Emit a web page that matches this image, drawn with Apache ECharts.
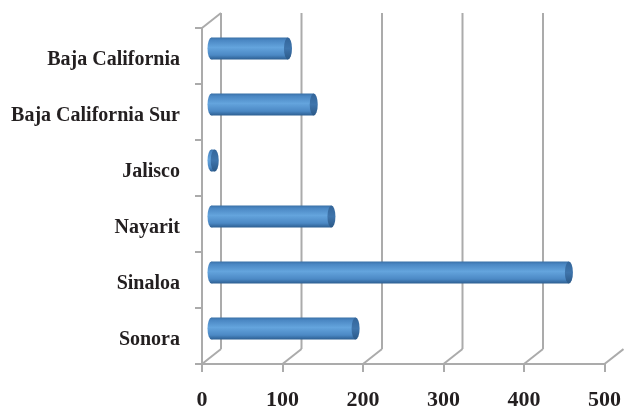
<!DOCTYPE html>
<html>
<head>
<meta charset="utf-8">
<script src="https://cdn.jsdelivr.net/npm/echarts@6/dist/echarts.min.js"></script>
<style>html,body{margin:0;padding:0;background:#fff}#c{width:624px;height:411px}</style>
</head>
<body>
<div id="c"></div>
<script>
const categories = ['Baja California','Baja California Sur','Jalisco','Nayarit','Sinaloa','Sonora'];
const values = [95, 127, 4, 149, 444, 179];
const xTicks = [0, 100, 200, 300, 400, 500];

const DX = 19, DY = -15;          // depth offset of back wall
const GRID = '#ababab';
const FONT = 'Liberation Serif';

const chart = echarts.init(document.getElementById('c'));

function frameItem(params, api) {
  const cs = params.coordSys;
  const v = api.value(0);
  const x = api.coord([v, 0])[0];
  const top = cs.y, bottom = cs.y + cs.height;
  const style = {stroke: GRID, lineWidth: 2, fill: null};
  const children = [];
  children.push({type: 'line', shape: {x1: x, y1: bottom, x2: x + DX, y2: bottom + DY}, style});
  if (v < 500) {
    children.push({type: 'line', shape: {x1: x + DX, y1: top + DY, x2: x + DX, y2: bottom + DY}, style});
  }
  if (v === 0) {
    children.push({type: 'line', shape: {x1: x, y1: top, x2: x + DX, y2: top + DY}, style});
  }
  return {type: 'group', children};
}

function barItem(params, api) {
  const v = api.value(0), c = api.value(1);
  const p0 = api.coord([0, c]);
  const p1 = api.coord([v, c]);
  const band = api.size([0, 1])[1];
  const h = band * 0.39;
  const ry = h / 2, rx = 4;
  const x0 = p0[0] + DX / 2, x1 = p1[0] + DX / 2, cy = p0[1] + DY / 2;
  const bodyFill = new echarts.graphic.LinearGradient(0, 0, 0, 1, [
    {offset: 0, color: '#3a71a8'},
    {offset: 0.12, color: '#4a87c3'},
    {offset: 0.45, color: '#64a4dd'},
    {offset: 0.8, color: '#4c89c5'},
    {offset: 1, color: '#2d5f92'}
  ]);
  const capFill = new echarts.graphic.LinearGradient(0, 0, 0, 1, [
    {offset: 0, color: '#33659a'},
    {offset: 0.5, color: '#3f75ac'},
    {offset: 1, color: '#2b5988'}
  ]);
  return {
    type: 'group',
    children: [
      {type: 'circle', x: x0, y: cy, scaleX: rx / ry, shape: {cx: 0, cy: 0, r: ry}, style: {fill: bodyFill}},
      {type: 'rect', shape: {x: x0, y: cy - ry, width: Math.max(x1 - x0, 0), height: h}, style: {fill: bodyFill}},
      {type: 'circle', x: x1, y: cy, scaleX: rx / ry, shape: {cx: 0, cy: 0, r: ry}, style: {fill: capFill}}
    ]
  };
}

chart.setOption({
  animation: false,
  backgroundColor: '#fff',
  grid: {left: 202, right: 18.3, top: 28, bottom: 44, containLabel: false},
  xAxis: {
    type: 'value', min: 0, max: 500, interval: 100,
    axisLine: {show: true, lineStyle: {color: GRID, width: 2}},
    axisTick: {show: true, length: 8, lineStyle: {color: GRID, width: 2}},
    splitLine: {show: false},
    axisLabel: {margin: 25, color: '#231f20', fontFamily: FONT, fontWeight: 'bold', fontSize: 22,
      formatter: function (v) { return xTicks.indexOf(v) >= 0 ? String(v) : ''; }}
  },
  yAxis: {
    type: 'category', data: categories, inverse: true,
    axisLine: {show: true, lineStyle: {color: GRID, width: 2}},
    axisTick: {show: true, length: 7, lineStyle: {color: GRID, width: 2}},
    splitLine: {show: false},
    axisLabel: {margin: 22, color: '#231f20', fontFamily: FONT, fontWeight: 'bold', fontSize: 20,
      verticalAlign: 'top', lineHeight: 7}
  },
  series: [
    {type: 'custom', z: 1, silent: true, renderItem: frameItem,
      data: xTicks.map(v => [v, 0]), encode: {x: 0, y: 1}},
    {type: 'custom', z: 3, renderItem: barItem,
      data: values.map((v, i) => [v, i]), encode: {x: 0, y: 1}}
  ]
});
</script>
</body>
</html>
